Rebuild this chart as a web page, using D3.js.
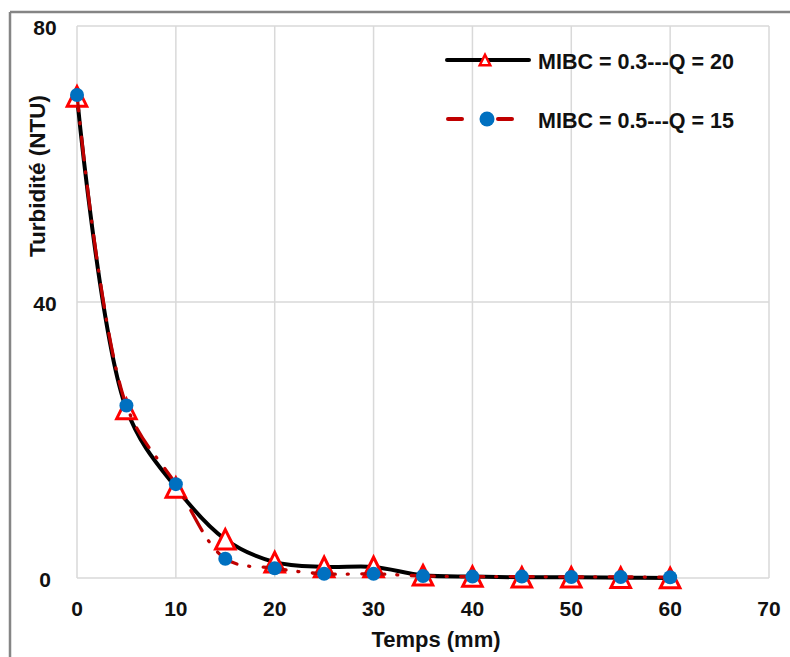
<!DOCTYPE html>
<html>
<head>
<meta charset="utf-8">
<script src="https://cdn.jsdelivr.net/npm/d3@7"></script>
<style>
  html, body { margin: 0; padding: 0; background: #fff; }
  svg { display: block; }
  text { font-family: "Liberation Sans", Arial, sans-serif; font-weight: bold; fill: #111; }
</style>
</head>
<body>
<svg id="chart" width="790" height="657"></svg>
<script>
// ---- data ----
const times = [0, 5, 10, 15, 20, 25, 30, 35, 40, 45, 50, 55, 60];
const seriesA = [69.8, 24.5, 13.1, 5.6, 2.3, 1.6, 1.6, 0.4, 0.2, 0.1, 0.1, 0.05, 0.0];   // MIBC = 0.3---Q = 20
const seriesB = [70.0, 25.0, 13.6, 2.8, 1.4, 0.6, 0.6, 0.3, 0.2, 0.2, 0.15, 0.15, 0.1]; // MIBC = 0.5---Q = 15
const seriesNames = ["MIBC = 0.3---Q = 20", "MIBC = 0.5---Q = 15"];
const xTicks = [0, 10, 20, 30, 40, 50, 60, 70];
const yTicks = [0, 40, 80];
const xTitle = "Temps (mm)";
const yTitle = "Turbidité (NTU)";

// ---- layout ----
const svg = d3.select("#chart");
const W = 790, H = 657;
const plot = { left: 77, right: 769, top: 26, bottom: 578 };

const x = d3.scaleLinear().domain([0, 70]).range([plot.left, plot.right]);
const y = d3.scaleLinear().domain([0, 80]).range([plot.bottom, plot.top]);

// outer frame (partial, like a cropped screenshot)
svg.append("line").attr("x1", 10).attr("x2", W).attr("y1", 12).attr("y2", 12)
  .attr("stroke", "#858585").attr("stroke-width", 2.5);
svg.append("line").attr("x1", 10).attr("x2", 10).attr("y1", 12).attr("y2", H)
  .attr("stroke", "#858585").attr("stroke-width", 2.5);

// gridlines
const grid = svg.append("g").attr("stroke", "#d9d9d9").attr("stroke-width", 1.5);
grid.selectAll("line.v").data(xTicks).join("line")
  .attr("x1", d => x(d)).attr("x2", d => x(d))
  .attr("y1", plot.top).attr("y2", plot.bottom);
grid.selectAll("line.h").data(yTicks).join("line")
  .attr("x1", plot.left).attr("x2", plot.right)
  .attr("y1", d => y(d)).attr("y2", d => y(d));

// tick labels
svg.append("g").selectAll("text").data(xTicks).join("text")
  .attr("x", d => x(d)).attr("y", 616)
  .attr("text-anchor", "middle").attr("font-size", 21)
  .text(d => d);
svg.append("g").selectAll("text").data(yTicks).join("text")
  .attr("x", 45).attr("y", d => y(d) + 9)
  .attr("text-anchor", "middle").attr("font-size", 21)
  .text(d => d);

// axis titles
svg.append("text").attr("x", 436).attr("y", 647)
  .attr("text-anchor", "middle").attr("font-size", 22).text(xTitle);
svg.append("text").attr("transform", "translate(45,176) rotate(-90)")
  .attr("text-anchor", "middle").attr("font-size", 22.5).text(yTitle);

// lines
const line = d3.line().x((d, i) => x(times[i])).y(d => y(d)).curve(d3.curveCatmullRom.alpha(0.5));

const triPath = (s) => `M0,${-s / 2}L${s / 2},${s / 2}L${-s / 2},${s / 2}Z`;

svg.append("path").datum(seriesA).attr("d", line)
  .attr("fill", "none").attr("stroke", "#000").attr("stroke-width", 4)
  .attr("stroke-linejoin", "round").attr("stroke-linecap", "round");

svg.append("g").selectAll("path").data(seriesA).join("path")
  .attr("transform", (d, i) => `translate(${x(times[i])},${y(d)})`)
  .attr("d", triPath(19.5))
  .attr("fill", "#fff").attr("stroke", "#ff0000").attr("stroke-width", 3)
  .attr("stroke-linejoin", "miter");

const redPath = svg.append("path").datum(seriesB).attr("d", line)
  .attr("fill", "none").attr("stroke", "#c00000").attr("stroke-width", 3.3)
  .attr("stroke-linecap", "round")
  .attr("stroke-dasharray", "23,12,1,13.5");
const L = redPath.node().getTotalLength();
const P = 49.5;
redPath.attr("stroke-dashoffset", (11.5 - (L % P) + P) % P);

svg.append("g").selectAll("circle").data(seriesB).join("circle")
  .attr("cx", (d, i) => x(times[i])).attr("cy", d => y(d)).attr("r", 7)
  .attr("fill", "#0070c0");

// legend
const lg = svg.append("g");
lg.append("line").attr("x1", 447).attr("x2", 529).attr("y1", 60).attr("y2", 60)
  .attr("stroke", "#000").attr("stroke-width", 4).attr("stroke-linecap", "round");
lg.append("path").attr("transform", "translate(485,60)").attr("d", triPath(10.5))
  .attr("fill", "#fff").attr("stroke", "#ff0000").attr("stroke-width", 2.5);
lg.append("text").attr("x", 538).attr("y", 69).attr("font-size", 21.5).text(seriesNames[0]);

lg.append("line").attr("x1", 448).attr("x2", 462).attr("y1", 119).attr("y2", 119)
  .attr("stroke", "#c00000").attr("stroke-width", 4).attr("stroke-linecap", "round");
lg.append("line").attr("x1", 498).attr("x2", 512).attr("y1", 119).attr("y2", 119)
  .attr("stroke", "#c00000").attr("stroke-width", 4).attr("stroke-linecap", "round");
lg.append("circle").attr("cx", 487).attr("cy", 119).attr("r", 7.5).attr("fill", "#0070c0");
lg.append("text").attr("x", 538).attr("y", 128).attr("font-size", 21.5).text(seriesNames[1]);
</script>
</body>
</html>
